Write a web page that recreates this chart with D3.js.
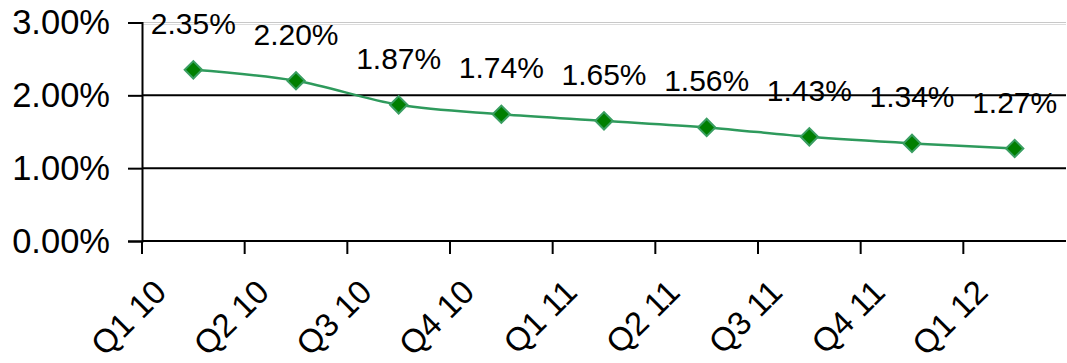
<!DOCTYPE html>
<html>
<head>
<meta charset="utf-8">
<script src="https://cdn.jsdelivr.net/npm/d3@7"></script>
<style>
  body { margin: 0; background: #fff; }
  text { font-family: "Liberation Sans", Arial, sans-serif; fill: #000; }
</style>
</head>
<body>
<script>
'use strict';

// chart data
const quarters = ["Q1 10", "Q2 10", "Q3 10", "Q4 10", "Q1 11", "Q2 11", "Q3 11", "Q4 11", "Q1 12"];
const rates = [2.35, 2.20, 1.87, 1.74, 1.65, 1.56, 1.43, 1.34, 1.27];
const yTicks = [0, 1, 2, 3];

const width = 1067, height = 363;
const plotLeft = 142, plotRight = 1066, plotTop = 22.5, plotBottom = 241;

const svg = d3.select('body').append('svg')
  .attr('width', width)
  .attr('height', height);

// scales
const x = d3.scaleBand().domain(quarters).range([plotLeft, plotRight]).padding(0);
const y = d3.scaleLinear().domain([0, 3]).range([plotBottom, plotTop]);
const xc = (d) => x(d) + x.bandwidth() / 2;

// gridlines (top one is light grey, the rest black)
svg.append('g').selectAll('line')
  .data(yTicks.filter((t) => t > 0))
  .enter().append('line')
    .attr('x1', plotLeft).attr('x2', plotRight)
    .attr('y1', (d) => y(d)).attr('y2', (d) => y(d))
    .attr('stroke', (d) => d === 3 ? '#c8c8c8' : '#000')
    .attr('stroke-width', (d) => d === 3 ? 1 : 2);
svg.append('line')
  .attr('x1', plotLeft).attr('x2', plotRight)
  .attr('y1', y(3) + 2).attr('y2', y(3) + 2)
  .attr('stroke', '#dcdcdc').attr('stroke-width', 1);

// y axis
const yAxis = d3.axisLeft(y).tickValues(yTicks).tickSize(14).tickPadding(18)
  .tickFormat((d) => d.toFixed(2) + '%');
const gy = svg.append('g').attr('transform', `translate(${plotLeft},0)`).call(yAxis);
gy.select('.domain').attr('stroke', '#000').attr('stroke-width', 2);
gy.selectAll('.tick line').attr('stroke', '#000').attr('stroke-width', 2);
gy.selectAll('.tick text')
  .style('font-size', '34.5px')
  .style('font-family', '"Liberation Sans", Arial, sans-serif')
  .attr('fill', '#000');

// x axis: ticks at band boundaries
svg.append('line')
  .attr('x1', plotLeft).attr('x2', plotRight)
  .attr('y1', plotBottom).attr('y2', plotBottom)
  .attr('stroke', '#000').attr('stroke-width', 2);
svg.append('g').selectAll('line')
  .data(quarters)
  .enter().append('line')
    .attr('x1', (d) => x(d)).attr('x2', (d) => x(d))
    .attr('y1', plotBottom).attr('y2', plotBottom + 13)
    .attr('stroke', '#000').attr('stroke-width', 2);

// rotated category labels
svg.append('g').selectAll('text')
  .data(quarters)
  .enter().append('text')
    .attr('transform', (d) => `translate(${xc(d) - 25},${plotBottom + 53})rotate(-45)`)
    .attr('text-anchor', 'end')
    .style('font-size', '33px')
    .text((d) => d);

// line
const line = d3.line()
  .x((d, i) => xc(quarters[i]))
  .y((d) => y(d))
  .curve(d3.curveCatmullRom.alpha(0.5));

svg.append('path')
  .datum(rates)
  .attr('d', line)
  .attr('fill', 'none')
  .attr('stroke', '#2e9a5c')
  .attr('stroke-width', 2.5);

// diamond markers
const diamond = d3.symbol().type(d3.symbolSquare).size(150);
svg.append('g').selectAll('path')
  .data(rates)
  .enter().append('path')
    .attr('d', diamond)
    .attr('transform', (d, i) => `translate(${xc(quarters[i])},${y(d)})rotate(45)`)
    .attr('fill', '#007f00')
    .attr('stroke', '#3a9e62')
    .attr('stroke-width', 2);

// data labels
svg.append('g').selectAll('text')
  .data(rates)
  .enter().append('text')
    .attr('x', (d, i) => xc(quarters[i]))
    .attr('y', (d) => y(d) - 36)
    .attr('text-anchor', 'middle')
    .style('font-size', '30px')
    .text((d) => d.toFixed(2) + '%');
</script>
</body>
</html>
